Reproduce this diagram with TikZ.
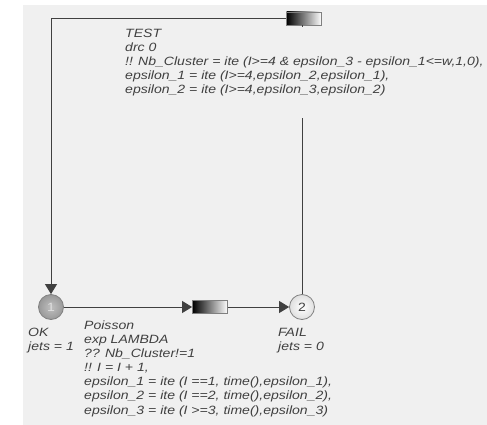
\documentclass[tikz,border=0pt]{standalone}
\usepackage{fontspec}
\setmainfont{Liberation Sans}[FakeStretch=1.17]
\usepackage{xcolor}
\usepackage{tikz}
\usetikzlibrary{arrows.meta}

\definecolor{bggray}{HTML}{F0F0F0}
\definecolor{inkgray}{HTML}{404040}
\definecolor{rimgray}{HTML}{808080}

\begin{document}
\begin{tikzpicture}[x=1pt,y=-1pt,
  place/.style={circle,draw=rimgray,line width=0.8pt,minimum size=25pt,inner sep=0pt,
    font=\fontsize{12}{13}\selectfont},
  okplace/.style={place,inner color=gray!50,outer color=gray!80,text=gray!25},
  failplace/.style={place,inner color=white,outer color=gray!25,text=inkgray},
  trans/.style={rectangle,draw=rimgray,line width=0.8pt,minimum width=35pt,minimum height=13pt,
    inner sep=0pt,left color=black,right color=white},
  txt/.style={anchor=base west,align=left,inner sep=0pt,text=inkgray,
    font=\fontsize{12}{14.1}\selectfont\itshape},
  arc/.style={draw=inkgray,line width=0.8pt},
  tip/.style={-{Triangle[length=10pt,width=12pt]}}]
  \useasboundingbox (0,0) rectangle (487,425);
  \fill[bggray] (23,5) rectangle (487,425);

  \node[okplace] (ok) at (51,307) {1};
  \node[failplace] (fail) at (302,307) {2};
  \node[trans] (fire) at (210,307) {};
  \node[trans] (test) at (304,18.5) {};

  \draw[arc] (fail.north) -- (fail.north |- test.south);
  % base = last line of the label
  \node[txt,fill=bggray,inner xsep=2pt,inner ysep=2pt,text depth=23pt] (testlab) at (123,93.5)
    {TEST\\drc 0\\!! Nb\_Cluster = ite (I>=4 \& epsilon\_3 - epsilon\_1<=w,1,0),\\
     epsilon\_1 = ite (I>=4,epsilon\_2,epsilon\_1),\\
     epsilon\_2 = ite (I>=4,epsilon\_3,epsilon\_2)};

  \draw[arc,tip] (test.west) -| (ok.north);
  \draw[arc,tip] (ok.east) -- (fire.west);
  \draw[arc,tip] (fire.east) -- (fail.west);

  \node[txt] (oklab) at (28,350.5) {OK\\jets = 1};
  \node[txt] (faillab) at (278,350.5) {FAIL\\jets = 0};
  \node[txt] (firelab) at (84,414)
    {Poisson\\exp LAMBDA\\?? Nb\_Cluster!=1\\!! I = I + 1,\\
     epsilon\_1 = ite (I ==1, time(),epsilon\_1),\\
     epsilon\_2 = ite (I ==2, time(),epsilon\_2),\\
     epsilon\_3 = ite (I >=3, time(),epsilon\_3)};
\end{tikzpicture}
\end{document}
